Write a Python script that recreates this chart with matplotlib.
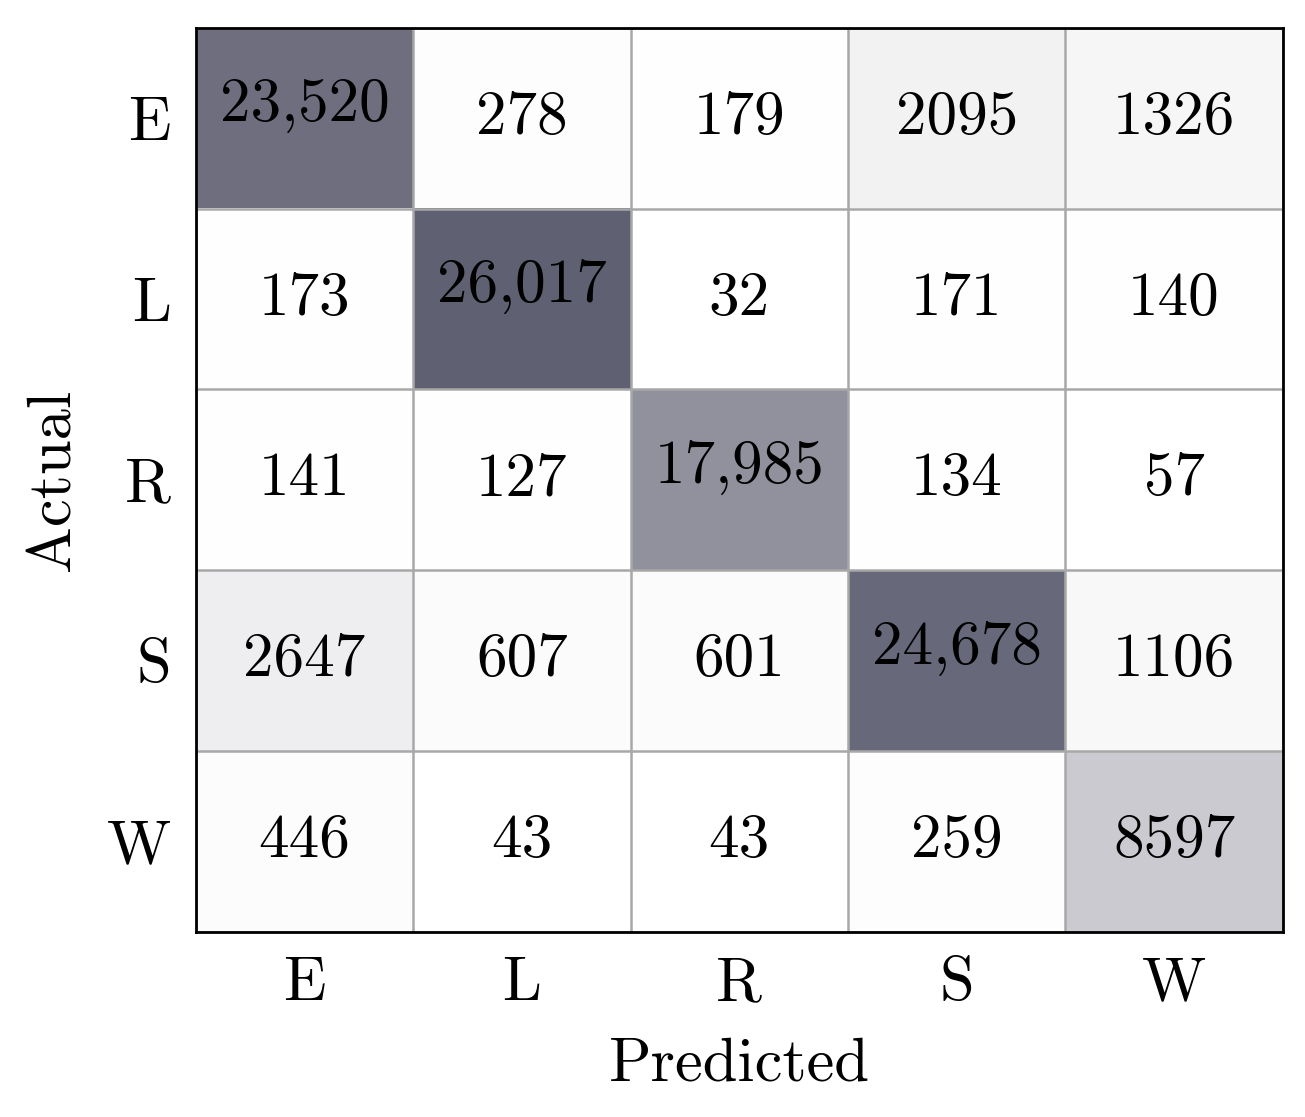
import numpy as np
import matplotlib
matplotlib.use("Agg")
import matplotlib.pyplot as plt
from matplotlib.colors import LinearSegmentedColormap

plt.rcParams['font.family'] = 'cmr10'
plt.rcParams['axes.formatter.use_mathtext'] = True

labels = ["E", "L", "R", "S", "W"]
cm = np.array([
    [23520, 278, 179, 2095, 1326],
    [173, 26017, 32, 171, 140],
    [141, 127, 17985, 134, 57],
    [2647, 607, 601, 24678, 1106],
    [446, 43, 43, 259, 8597],
])

cmap = LinearSegmentedColormap.from_list("slate", ["#ffffff", "#5f6072"])

fig = plt.figure(figsize=(13.05, 11.17), dpi=100)
ax = fig.add_axes([0.150, 0.166, 0.833, 0.809])
ax.imshow(cm, cmap=cmap, vmin=0, vmax=cm.max(), aspect='auto')

for i in range(5):
    for j in range(5):
        v = cm[i, j]
        if v >= 10000:
            txt = f"{v:,}"
            dy = -0.07
        else:
            txt = str(v)
            dy = 0
        ax.text(j, i + dy, txt, ha='center', va='center', fontsize=44, color='black')

# cell grid
ax.set_xticks(np.arange(-0.5, 5, 1), minor=True)
ax.set_yticks(np.arange(-0.5, 5, 1), minor=True)
ax.grid(which='minor', color='#a8a8a8', linewidth=1.8)
ax.tick_params(which='minor', length=0)

ax.set_xticks(range(5))
ax.set_yticks(range(5))
ax.set_xticklabels(labels, fontsize=45)
ax.set_yticklabels(labels, fontsize=45)
ax.tick_params(which='major', length=0, pad=18)

for s in ax.spines.values():
    s.set_linewidth(2)
    s.set_color('black')

ax.set_xlabel("Predicted", fontsize=45, labelpad=18)
ax.set_ylabel("Actual", fontsize=45, labelpad=18)

fig.savefig("out.png", dpi=100)
